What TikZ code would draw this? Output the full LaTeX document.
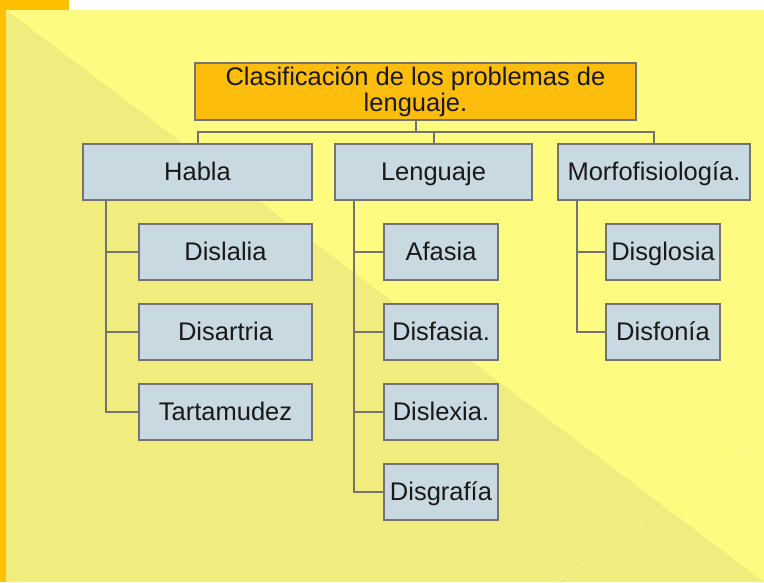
\documentclass[tikz,border=0pt]{standalone}
\usepackage{fontspec}
\setmainfont{Liberation Sans}
\usetikzlibrary{calc}

\definecolor{hellgelb}{HTML}{FDFB80}
\definecolor{dunkelgelb}{HTML}{F0EC7E}
\definecolor{randorange}{HTML}{FFC000}
\definecolor{titelorange}{HTML}{FDBD0C}
\definecolor{kastenblau}{HTML}{C9D9E2}
\definecolor{liniengrau}{HTML}{737373}

\tikzset{
  kasten/.style={draw=liniengrau, line width=1.5pt, fill=kastenblau, text=black!90,
    inner sep=0pt, minimum height=56pt, text height=18pt, text depth=2pt,
    font=\fontsize{25.5}{26}\selectfont},
  titelkasten/.style={draw=liniengrau, line width=1.5pt, fill=titelorange, text=black!90,
    inner sep=0pt, minimum height=57pt, align=center, font=\fontsize{25.5}{26}\selectfont},
  linie/.style={draw=liniengrau, line width=2pt}
}

\begin{document}
\begin{tikzpicture}[x=1pt,y=-1pt] % 1pt = 1 Pixel, y nach unten
\useasboundingbox (0,0) rectangle (764,582);

%HINTERGRUND
\fill [white] (0,0) rectangle (764,582);
\fill [hellgelb] (6,10) rectangle (764,582);
\fill [dunkelgelb] (6,10) -- (764,582) -- (6,582) -- cycle;
\draw [hellgelb!70!white, line width=1pt, opacity=0.5] (556,582) -- (764,437);
\fill [randorange] (0,0) rectangle (69,10);
\fill [randorange] (0,0) rectangle (6,582);

%TITEL
\node [titelkasten, minimum width=441pt] (titel) at (415.5,91.5) {Clasificación de los problemas de\\lenguaje.};

%EBENE NR. 1
\node [kasten, minimum width=229pt] (habla) at (197.5,172) {Habla};
\node [kasten, minimum width=197pt] (lenguaje) at (433.5,172) {Lenguaje};
\node [kasten, minimum width=192pt] (morfo) at (654,172) {Morfofisiología.};

%SPALTE NR. 0 (von links)
\node [kasten, minimum width=173pt] (dislalia) at (225.5,252) {Dislalia};
\node [kasten, minimum width=173pt] (disartria) at (225.5,332) {Disartria};
\node [kasten, minimum width=173pt] (tartamudez) at (225.5,412) {Tartamudez};

%SPALTE NR. 1 (von links)
\node [kasten, minimum width=114pt] (afasia) at (441,252) {Afasia};
\node [kasten, minimum width=114pt] (disfasia) at (441,332) {Disfasia.};
\node [kasten, minimum width=114pt] (dislexia) at (441,412) {Dislexia.};
\node [kasten, minimum width=114pt] (disgrafia) at (441,492) {Disgrafía};

%SPALTE NR. 2 (von links)
\node [kasten, minimum width=114pt] (disglosia) at (663,252) {Disglosia};
\node [kasten, minimum width=114pt] (disfonia) at (663,332) {Disfonía};

%VERBINDUNGEN OBEN
\coordinate (balken) at (0,132);
\draw [linie] (titel.south) -- (titel.south |- balken);
\draw [linie] (habla.north) |- (morfo.north |- balken) -- (morfo.north);
\draw [linie] (lenguaje.north) -- (lenguaje.north |- balken);

%VERBINDUNGEN UNTEN
\coordinate (achse0) at (106,200);
\coordinate (achse1) at (354,200);
\coordinate (achse2) at (577,201);
\foreach \k in {dislalia,disartria,tartamudez}
  \draw [linie] (achse0) |- (\k.west);
\foreach \k in {afasia,disfasia,dislexia,disgrafia}
  \draw [linie] (achse1) |- (\k.west);
\foreach \k in {disglosia,disfonia}
  \draw [linie] (achse2) |- (\k.west);

\end{tikzpicture}
\end{document}
